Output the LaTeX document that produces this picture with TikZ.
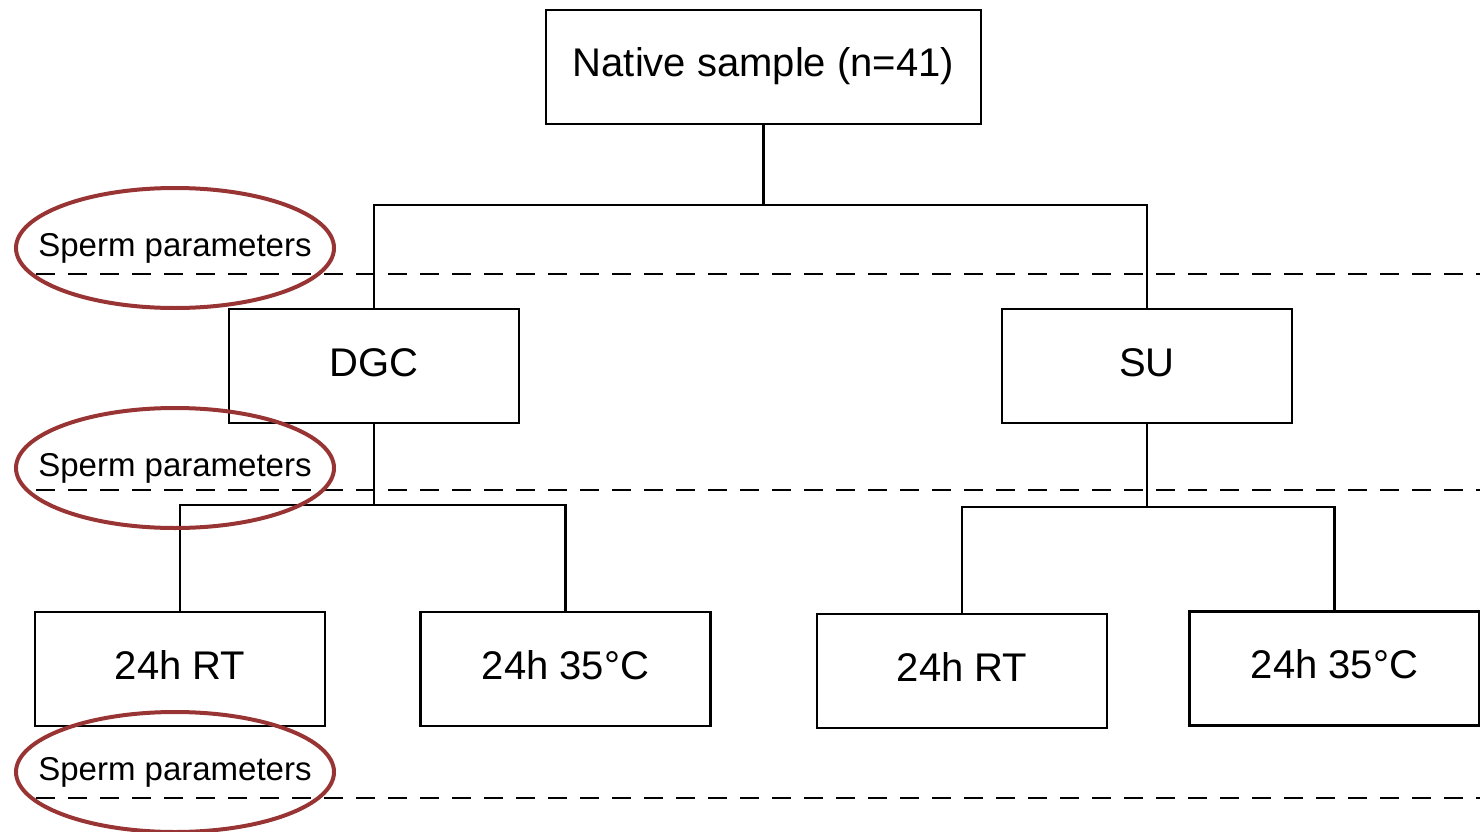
\documentclass[tikz,border=0pt]{standalone}
\usepackage{fontspec}
\setmainfont{Liberation Sans}
\definecolor{ring}{RGB}{152,52,52}

\begin{document}
\begin{tikzpicture}[x=1pt,y=1pt,
  stage/.style={draw,line width=2.2pt,minimum width=290pt,minimum height=114pt,inner sep=0pt,text height=30pt,text depth=10pt,font=\fontsize{40}{48}\selectfont},
  param/.style={inner sep=0pt,font=\fontsize{33}{40}\selectfont},
  link/.style={line width=2.2pt}]
  \useasboundingbox (0,0) rectangle (1480,-832);
  % boxes
  \node[stage,minimum width=435pt] (native) at (763.5,-67) {Native sample (n=41)};
  \node[stage] (dgc) at (374,-366) {DGC};
  \node[stage] (su) at (1147,-366) {SU};
  \node[stage] (rtA) at (180,-669) {24h RT};
  \node[stage] (hotA) at (565.5,-669) {24h 35°C};
  \node[stage] (rtB) at (962,-671) {24h RT};
  \node[stage] (hotB) at (1334.5,-668.5) {24h 35°C};
  % connectors
  \coordinate (busA) at (native.south |- 0,-205);
  \coordinate (busB) at (dgc.south |- 0,-505);
  \coordinate (busC) at (su.south |- 0,-507);
  \draw[link] (native.south) -- (busA);
  \draw[link] (busA) -| (dgc.north);
  \draw[link] (busA) -| (su.north);
  \draw[link] (dgc.south) -- (busB);
  \draw[link] (busB) -| (rtA.north);
  \draw[link] (busB) -| (hotA.north);
  \draw[link] (su.south) -- (busC);
  \draw[link] (busC) -| (rtB.north);
  \draw[link] (busC) -| (hotB.north);
  % measuring points
  \foreach \y in {274,490,798}{\draw[line width=2.2pt,dash pattern=on 19pt off 13pt] (36,-\y) -- (1480,-\y);}
  \foreach \y/\n in {248/parA,468/parB,772/parC}{
    \node[param] (\n) at (175,-\y) {Sperm parameters};
    \draw[ring,line width=4pt] (175,-\y) ellipse [x radius=159,y radius=60];
  }
\end{tikzpicture}
\end{document}
